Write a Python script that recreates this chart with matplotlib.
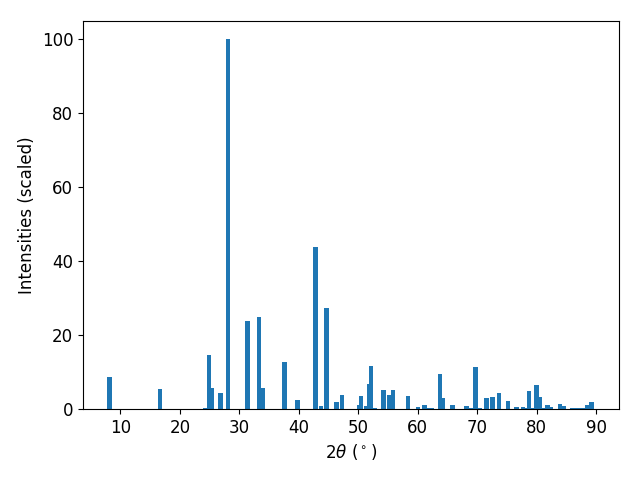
import matplotlib
matplotlib.use("Agg")
import matplotlib.pyplot as plt

two_theta = [8.15, 16.65, 24.3, 24.9, 25.3, 26.8, 28.1, 31.4, 33.3, 33.9,
             37.6, 39.8, 42.8, 43.7, 44.65, 46.3, 47.3, 50.1, 50.45, 51.3,
             51.8, 52.15, 52.7, 54.25, 55.25, 55.85, 58.4, 60.05, 61.15, 61.8,
             62.3, 63.75, 64.25, 65.85, 68.2, 69.05, 69.7, 70.5, 71.6, 72.6,
             73.7, 75.2, 76.6, 77.7, 78.2, 78.7, 79.3, 80.0, 80.5, 81.1,
             81.8, 82.4, 83.9, 84.5, 85.9, 86.4, 87.2, 87.8, 88.5, 89.2]
intensity = [8.7, 5.4, 0.3, 14.6, 5.7, 4.3, 100.0, 23.8, 24.9, 5.7,
             12.7, 2.4, 43.8, 0.8, 27.4, 1.9, 3.7, 1.1, 3.5, 0.8,
             6.7, 11.6, 0.3, 5.1, 3.8, 5.1, 3.5, 0.6, 1.1, 0.3,
             0.3, 9.5, 2.9, 1.1, 0.8, 0.3, 11.4, 0.3, 2.9, 3.2,
             4.3, 2.2, 0.6, 0.6, 0.3, 4.9, 0.3, 6.5, 3.2, 0.3,
             1.1, 0.6, 1.3, 0.8, 0.3, 0.3, 0.3, 0.3, 1.1, 1.9]
x_ticks = [10, 20, 30, 40, 50, 60, 70, 80, 90]

plt.rcParams['font.size'] = 12
fig, ax = plt.subplots(figsize=(6.4, 4.8), dpi=100)
ax.bar(two_theta, intensity, width=0.75, color='#1f77b4')
ax.set_xlabel(r'$2\theta$ ($^\circ$)')
ax.set_ylabel('Intensities (scaled)')
ax.set_xlim(3.7, 93.85)
ax.set_xticks(x_ticks)
fig.subplots_adjust(left=83/640, right=619/640, top=1-21/480, bottom=1-409/480)
fig.savefig('out.png', dpi=100)
